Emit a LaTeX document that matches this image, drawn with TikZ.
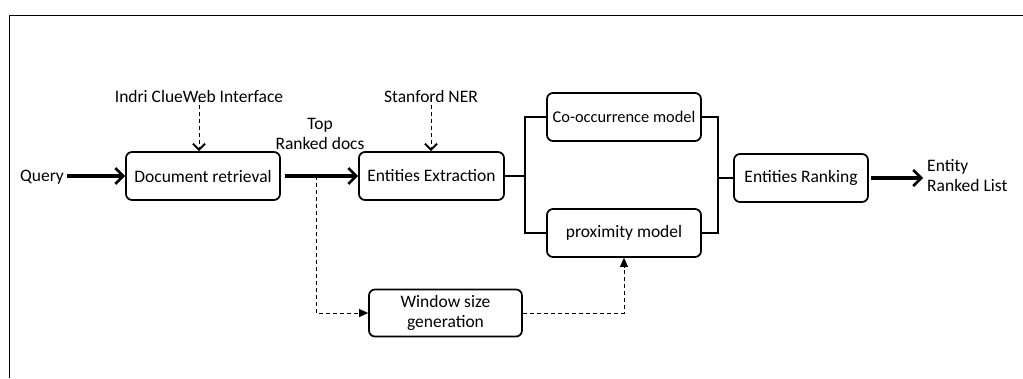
\documentclass[tikz,border=0pt]{standalone}
\usepackage{fontspec}
\setmainfont{Carlito}
\usetikzlibrary{arrows.meta}
\begin{document}
\begin{tikzpicture}[x=1pt,y=-1pt,
  every node/.style={font=\fontsize{17.5}{20}\selectfont, inner sep=0pt},
  box/.style={draw, rounded corners=6pt, line width=1.7pt, align=center, minimum height=48pt},
  lbl/.style={align=center},
  thickarrow/.style={line width=3.2pt, -{Straight Barb[length=8pt,width=16pt,line width=2.6pt]}},
  conn/.style={line width=1.4pt},
  dasharrow/.style={line width=0.9pt, dash pattern=on 4pt off 3pt, -{Straight Barb[length=6pt,width=12pt,line width=2pt]}},
  dashtri/.style={line width=0.9pt, dash pattern=on 4pt off 3pt, -{Triangle[length=9pt,width=8pt]}}
]
\useasboundingbox (0,0) rectangle (1023,378);
\draw[line width=1pt] (9.5,378) -- (9.5,15.5) -- (1023,15.5);

\node[box, minimum width=154pt] (dr) at (203,176) {Document retrieval};
\node[box, minimum width=145pt] (ee) at (431.5,176) {Entities Extraction};
\node[box, minimum width=154pt, font=\fontsize{16.4}{20}\selectfont] (co) at (624,117) {Co-occurrence model};
\node[box, minimum width=154pt] (pm) at (624,233) {proximity model};
\node[box, minimum width=134pt] (er) at (801,178) {Entities Ranking};
\node[box, minimum width=153pt, minimum height=47pt] (ws) at (445.5,313) {Window size\\generation};

\node[lbl] (query) at (42,177) {Query};
\node[lbl] (indri) at (199,96) {Indri ClueWeb Interface};
\node[lbl] (ner) at (431,96) {Stanford NER};
\node[lbl] (top) at (320,134) {Top\\Ranked docs};
\node[align=left, anchor=west] (out) at (927,176) {Entity\\Ranked List};

\coordinate (b) at (316,176);
\coordinate (jl) at (525,176);
\coordinate (jr) at (718,178);

\draw[thickarrow] ([xshift=3pt]query.east |- dr.west) -- (dr.west);
\draw[thickarrow] ([xshift=4pt]dr.east) -- (ee.west);
\draw[thickarrow] ([xshift=2pt]er.east) -- ([xshift=-4pt]out.west |- er.east);
\draw[dasharrow] ([yshift=4pt]indri.south) -- (dr.north -| indri.south);
\draw[dasharrow] ([yshift=4pt]ner.south) -- (ee.north -| ner.south);

\draw[dashtri] (b) |- (ws.west);
\draw[dashtri] (ws.east) -| (pm.south);

\draw[conn] (ee.east) -- (jl);
\draw[conn] (co.west) -| (jl) |- (pm.west);
\draw[conn] (co.east) -| (jr) |- (pm.east);
\draw[conn] (jr) -- (er.west);
\end{tikzpicture}
\end{document}
